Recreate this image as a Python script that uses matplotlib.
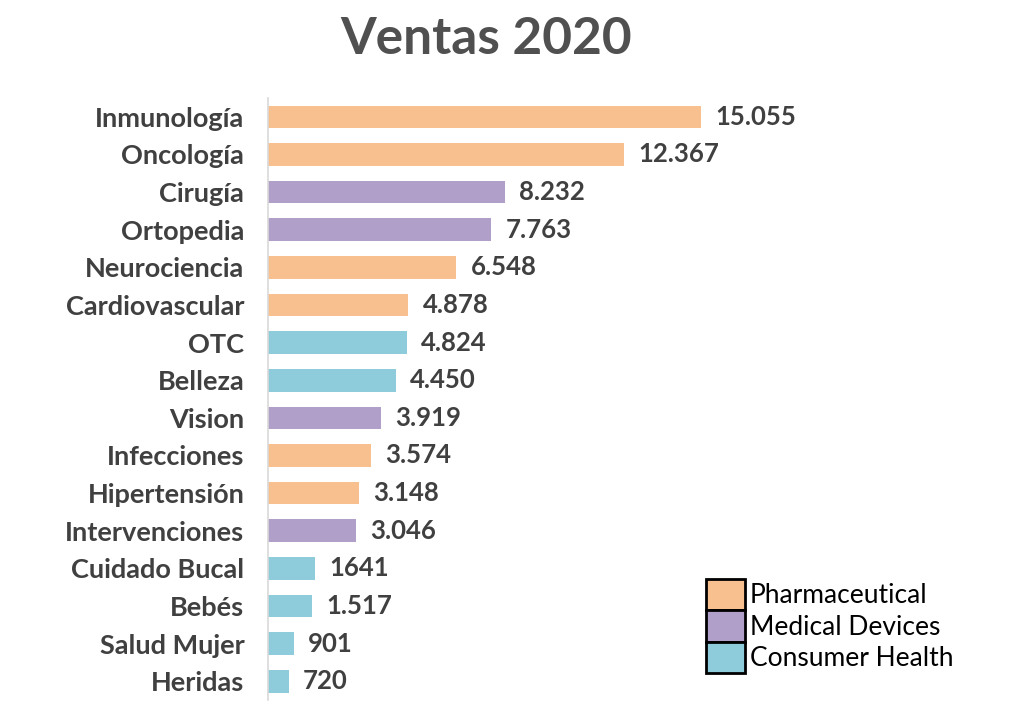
import matplotlib.pyplot as plt
from matplotlib.patches import Patch

plt.rcParams['font.family'] = ['Lato', 'DejaVu Sans']

categorias = ["Inmunología", "Oncología", "Cirugía", "Ortopedia", "Neurociencia",
              "Cardiovascular", "OTC", "Belleza", "Vision", "Infecciones",
              "Hipertensión", "Intervenciones", "Cuidado Bucal", "Bebés",
              "Salud Mujer", "Heridas"]
ventas = [15055, 12367, 8232, 7763, 6548, 4878, 4824, 4450, 3919, 3574,
          3148, 3046, 1641, 1517, 901, 720]
etiquetas = ["15.055", "12.367", "8.232", "7.763", "6.548", "4.878", "4.824",
             "4.450", "3.919", "3.574", "3.148", "3.046", "1641", "1.517",
             "901", "720"]
division = ["P", "P", "M", "M", "P", "P", "C", "C", "M", "P", "P", "M",
            "C", "C", "C", "C"]

colores = {"P": "#F8C08F", "M": "#B09FC8", "C": "#8ECCDC"}
nombres = {"P": "Pharmaceutical", "M": "Medical Devices", "C": "Consumer Health"}
gris = "#404040"

fig = plt.figure(figsize=(10.24, 7.16), dpi=100)
ax = fig.add_axes([0.2617, 0.0223, 0.4775, 0.8408])

y = list(range(len(categorias)))
ax.barh(y, ventas, height=0.6, color=[colores[d] for d in division])
for yi, v, t in zip(y, ventas, etiquetas):
    ax.text(v + 500, yi, t, va="center", ha="left", fontsize=18.5,
            fontweight="bold", color=gris)

ax.set_ylim(len(categorias) - 0.5, -0.5)
ax.set_xlim(0, 17000)
ax.set_yticks(y)
ax.set_yticklabels(categorias, fontsize=19.5, fontweight="bold", color=gris)
ax.tick_params(axis="y", length=0, pad=17)
ax.set_xticks([])
for s in ["top", "right", "bottom"]:
    ax.spines[s].set_visible(False)
ax.spines["left"].set_color("#D9D9D9")
ax.spines["left"].set_linewidth(1.2)

fig.text(0.475, 0.945, "Ventas 2020", ha="center", va="center", fontsize=37,
         fontweight="bold", color="#505050")

handles = [Patch(facecolor=colores[k], edgecolor="black", linewidth=2,
                 label=nombres[k]) for k in ["P", "M", "C"]]
fig.legend(handles=handles, loc="upper left", bbox_to_anchor=(0.677, 0.210),
           frameon=False, fontsize=19, handlelength=1.45, handleheight=1.45,
           handletextpad=0.2, labelspacing=0.0, borderpad=0)

fig.savefig("out.png", dpi=100)
